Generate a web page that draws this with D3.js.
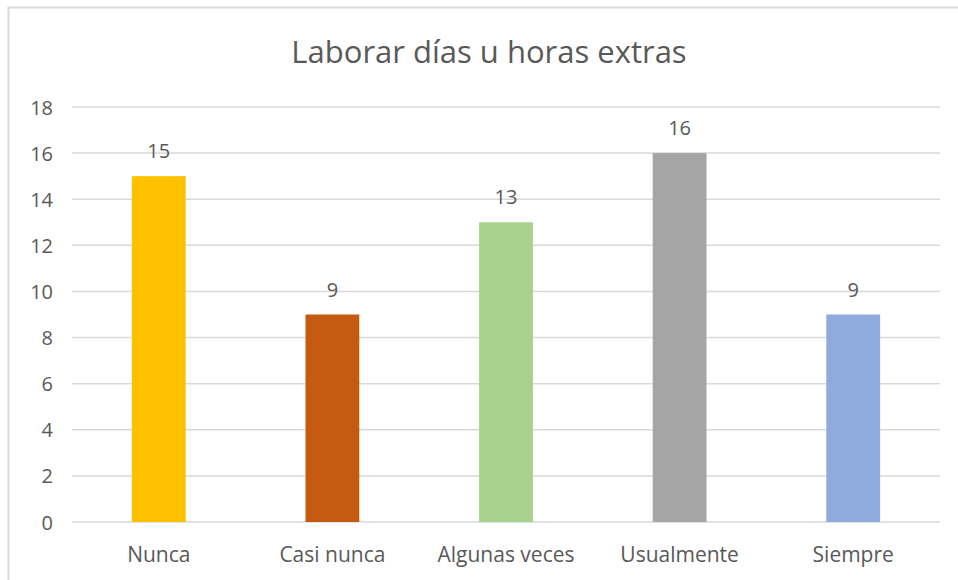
<!DOCTYPE html>
<html>
<head>
<meta charset="utf-8">
<script src="https://cdn.jsdelivr.net/npm/d3@7"></script>
<style>
  body { margin: 0; background: #fff; }
  svg text { font-family: "Open Sans", "Noto Sans", sans-serif; fill: #595959; }
</style>
</head>
<body>
<svg id="chart" width="958" height="580"></svg>
<script>
var categories = ["Nunca", "Casi nunca", "Algunas veces", "Usualmente", "Siempre"];
var values = [15, 9, 13, 16, 9];
var barColors = ["#FFC000", "#C55A11", "#A9D18E", "#A5A5A5", "#8FAADC"];
var yTicks = [0, 2, 4, 6, 8, 10, 12, 14, 16, 18];
var title = "Laborar días u horas extras";

var svg = d3.select("#chart");
var W = 958, H = 580;
var m = {left: 72, right: 18, top: 107, bottom: 58};

// chart area frame (right and bottom sides fall outside the picture)
svg.append("rect").attr("x", 8.5).attr("y", 7.5).attr("width", 960).attr("height", 590)
  .style("fill", "none").style("stroke", "#d9d9d9").style("stroke-width", 2);

var x = d3.scaleBand().domain(categories).range([m.left, W - m.right]).paddingInner(0.69).paddingOuter(0.345);
var y = d3.scaleLinear().domain([0, 18]).range([H - m.bottom, m.top]);

// gridlines
svg.append("g").selectAll("line").data(yTicks).enter().append("line")
  .attr("x1", m.left).attr("x2", W - m.right)
  .attr("y1", d => y(d)).attr("y2", d => y(d))
  .style("stroke", "#d9d9d9").style("stroke-width", 1.5);

// y axis labels
var yAxis = d3.axisLeft(y).tickValues(yTicks).tickSize(0).tickPadding(0);
var ya = svg.append("g").attr("transform", "translate(53,0)").call(yAxis);
ya.select(".domain").remove();
ya.selectAll("text").style("font-size", "20px").style("fill", "#595959").attr("dy", "0.35em");

// bars
svg.append("g").selectAll("rect").data(values).enter().append("rect")
  .attr("x", (d, i) => x(categories[i]))
  .attr("width", x.bandwidth())
  .attr("y", d => y(d))
  .attr("height", d => y(0) - y(d))
  .style("fill", (d, i) => barColors[i]);

// value labels
svg.append("g").selectAll("text").data(values).enter().append("text")
  .attr("x", (d, i) => x(categories[i]) + x.bandwidth() / 2)
  .attr("y", d => y(d) - 18)
  .attr("text-anchor", "middle")
  .style("font-size", "20px")
  .text(d => d);

// x axis labels
var xAxis = d3.axisBottom(x).tickSize(0).tickPadding(0);
var xa = svg.append("g").attr("transform", "translate(0," + (H - m.bottom) + ")").call(xAxis);
xa.select(".domain").remove();
xa.selectAll("text").attr("y", 40).attr("dy", 0).style("font-size", "21px").style("fill", "#595959");

// title
svg.append("text").attr("x", 489).attr("y", 63).attr("text-anchor", "middle")
  .style("font-size", "31px").text(title);
</script>
</body>
</html>
